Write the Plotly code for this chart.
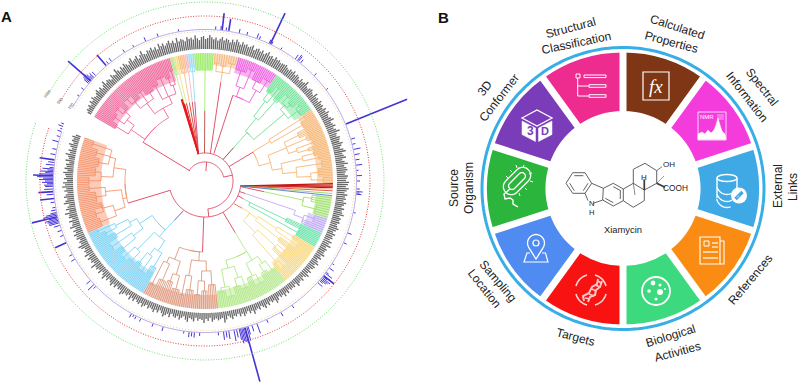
import math
import plotly.graph_objects as go

# ---------- Panel A data ----------
A_CX, A_CY, A_RAD = 205, 181, 181
LEAF_R = 128
RED = '#e0405c'
CLADE_NAMES = ['pink','lgreen0','yellow0','orange0','rose0','sky0','lime','sorange','magenta','green','orange',
               'sgreen','purple','teal','yellow','lgreen','brown','sky','salmon']
CLADE_TH0 = [150,106,104.3,102.5,99.3,97.8,95,86,75,56,34,-7,-17,-24,-31,-51,-84,-119,-156]
CLADE_TH1 = [106,104.3,102.5,99.3,97.8,95,86,75,56,34,-1,-17,-24,-31,-51,-84,-119,-156,-200]
CLADE_COLOR = ['#ef5f96','#b4e68c','#f2dc6e','#f6b878','#f4b0c0','#8bd8f5','#93ea5e','#f6b274','#ee55de','#62e08c','#f6b26e',
               '#98de62','#b9a2f2','#62e2a6','#f8d678','#aee682','#dd9478','#72cff3','#f68e64']
BAND_INNER = [104,114,114,114,114,114,112,116,112,108,112,112,108,105,105,110,114,105,104]
STEM_TH0 = [146,103.6,103.6,103.6,103.6,103.6,91,79,72,50,31,-9,-17,-24,-38,-60,-92,-126,-165]
STEM_R0 = [18,28,28,28,28,28,28,28,29,28,28,36,36,36,37,36,36,37,36]
STEM_TH1 = [148,105.2,103.4,100.9,98.5,96.4,90,81,72,49,31,-11,-18,-25.5,-35,-59.5,-92,-129,-164]
STEM_SPLIT = [73,80,80,80,80,80,70,100,90,44,56,60,42,42,46,60,71,50,80]
STEM_COLOR = [RED,'#c81e1e','#d82020','#e04030','#d84060','#d84060','#b84a3c',RED,RED,'#7a3a50',RED,RED,RED,RED,'#e0703c',RED,RED,'#5a5ab0',RED]
CLADE_TREE = [
 (73,(90,(104,4),(99,(110,6),(106,(113,5),4))),(84,(97,(106,(113,6),5),(110,4),(104,7)),(92,(107,5),(112,6),(101,(109,4),(115,3))))),
 (110,3),(110,2),(110,4),(110,2),(110,3),
 (111,11),
 (110,(118,3),(116,3),(120,4)),
 (90,(100,(116,7),(120,4)),(104,(112,6),(118,5))),
 (64,(81,(100,(110,4),(118,3)),(106,4)),(104,(110,(118,4),(114,5)),(116,(120,3),4))),
 (56,(76,(118,3),(112,5)),(68,(88,(104,5),(110,4),(97,(115,4),(108,3))),(78,(100,(112,4),(116,3)),(92,(118,5),(106,(114,6),(118,4)))))),
 (100,(108,4),(114,5)),
 (95,(105,(115,4),3)),
 (50,(90,4),(106,5)),
 (55,(64,(86,(104,4),(112,4)),(94,5)),(72,(96,(106,5),4),(108,(116,5),3))),
 (82,(92,(100,(112,5),(108,5)),(106,(116,6),4)),(90,(102,(114,5),(110,5)),(108,(118,5),(112,6)))),
 (71,(80,(90,(104,5),(100,(110,4),(114,4))),(96,(110,5),(116,3))),(84,(98,(112,5),(106,4)),(90,(108,5),(116,4)))),
 (63,(72,(84,(100,5),(92,(110,6),(104,4))),(96,(108,6),(112,5))),(78,(90,(106,5),(114,6)),(86,(104,5),(100,(112,4),(118,3))))),
 (80,(84,(95,(112,6),(106,(114,5),4)),(100,(110,7),(116,4))),(92,(104,(116,5),(110,6)),(98,(108,6),(112,5),(118,4)))),
]
THIN_COLOR = ['#c81414','#c81414','#d01818','#b01010','#f2a860','#e03030','#88cc55','#3a6ad0']
THIN_TH0 = [-8,-8,-8,-8,-8,-8,-8,-8]
THIN_TH1 = [-1.2,-1.8,-2.4,-3,-3.6,-4.4,-5.6,-6.6]
THIN_W = [1.2,1.2,1.0,1,0.8,0.8,0.8,0.8]
BACK_R = [19,28,36]
BACK_TH0 = [146,107,195]
BACK_TH1 = [12,-84,350]
STUB_TH = [85,12,-84]
STUB_R0 = [10,19,28]
STUB_R1 = [19,28,36]

GRAY_BASE = 132
GRAY_PINK = [4,6,5,7,5,8,6,9,7,6,8,10,7,9,6,8,11,7,9,8,6,10,8,7,12,9,7,10,8,11,9,7,10,12,8,9,11,7,10,13,9,8,11,10,12,9,11,8,13,10,12,9]
GRAY_STRIP = [11,13,10,12,9,14,10,12,11,9,13,11,12,10,14,11,9,12,13,10,11,14,12,10]
GRAY_SORANGE = [12,9,11,13,10,12,11,9,12,10,13,11,9]
GRAY_MAGENTA = [12,10,11,9,10,12,8,10,11,9,11,8,10,12,9,10,8,11,9,10,8,9]
GRAY_GREEN = [9,10,8,7,9,8,10,7,9,8,6,9,7,8,11,7,6,8,9,7,6,10,7,8,6,9]
GRAY_ORANGE = [7,8,6,9,7,10,8,7,9,11,7,8,10,7,9,12,8,7,10,9,8,11,9,7,10,12,8,9,11,7,9,12,8,10,11,9,8,11,10,9,12]
GRAY_THIN = [11,9,12,10,8,11,9]
GRAY_SGREEN = [10,8,11,9,7,10,8,9,11,7,9,8]
GRAY_PURPLE = [9,7,8,10,8,6,9,7]
GRAY_TEAL = [8,6,9,7,10,6,8,7]
GRAY_YELLOW = [7,9,6,8,5,7,9,6,8,7,5,8,6,9,7,5,8,6,7,9,5,7,6]
GRAY_LGREEN = [7,5,8,6,9,6,7,5,8,10,6,7,5,8,6,9,7,5,8,6,7,10,6,8,5,7,9,6,8,5,7,6,9,7,5,8,11,6,7]
GRAY_BROWN = [8,6,7,9,5,8,6,10,7,6,8,5,9,7,6,10,8,5,7,9,6,8,7,5,9,6,8,10,7,5,8,6,9,7,6,8,5,7,9,6,8]
GRAY_SKY = [7,5,8,6,9,5,7,6,8,10,6,7,5,8,6,9,7,5,8,6,10,7,5,9,6,8,7,11,6,8,7,9,6,10,7,8,6,9,11,7,8,6,9]
GRAY_SALMON = [8,10,7,9,6,11,8,7,10,6,9,8,12,7,10,8,6,11,9,7,10,8,6,9,7,11,8,10,6,9,7,8,10,6,9,7,8,5,9,6,7,10,6,8,5,7,9,5,7,6,8,5]
GRAY_GROUPS = [(150,106,GRAY_PINK),(106,86,GRAY_STRIP),(86,75,GRAY_SORANGE),(75,56,GRAY_MAGENTA),(56,34,GRAY_GREEN),
               (34,-1,GRAY_ORANGE),(-1,-7,GRAY_THIN),(-7,-17,GRAY_SGREEN),(-17,-24,GRAY_PURPLE),(-24,-31,GRAY_TEAL),
               (-31,-51,GRAY_YELLOW),(-51,-84,GRAY_LGREEN),(-84,-119,GRAY_BROWN),(-119,-156,GRAY_SKY),(-156,-200,GRAY_SALMON)]

SPIKE_BASE = 152
PEAK_THETA = [22,64.5,83.5,81,138.8,130.6,178,172,193.6,-74.7,-38.6,186.6,184,204]
PEAK_R = [218,186,169,164,182,166,172,167,178,208,165,166,167,164]
SMALL_THETA = [140,139,138,137.5,136,146,143,128,129.5,161,160,159,158,163,165,168,170,175,176,177,179,180,181,182,183,185,188,190,191,192,
  194,195,196,197,199,201,209,211,221,223,224,243,242,241,245,250,254,262,264,265,266,268,
  -85,-83,-82,-81,-79,-78,-77,-76,-75.5,-73.5,-72,-70,-66,-60,-55,-42,-41,-40,-39,-37,-35,-33,-24,-20,-12,-5,-4.5,-4,-3,
  0,2,4,6,8,10,12,14,16,37,52,51,70,69,100,108,113,118,122,86,77,74,60,44,
  138.5,139.5,137,173,174,175.5,176.5,177.5,178.5,179.5,180.5,181.5,192.5,193,194.5,195.5,-76.5,-75,-74,-40.5,-39.5,-38.5,-37.5,52.5,53.5,84,82,65,64]
SMALL_R = [158,160,159,156,157,154,155,156,155,156,154,157,155,155,158,156,157,156,158,160,162,160,158,160,161,159,156,155,157,158,
  161,163,162,158,156,155,155,156,157,160,155,155,154,156,155,155,156,154,157,156,157,155,
  155,160,158,160,163,160,163,165,166,160,158,162,155,156,155,158,156,160,157,155,157,154,155,156,154,157,155,158,155,
  155,157,154,158,156,157,159,155,156,154,158,156,157,155,154,155,156,154,155,155,156,155,154,155,
  161,160,158,158,160,163,165,166,168,166,163,161,163,166,165,162,167,168,166,159,162,164,160,159,157,156,155,156,155]
RING_GREEN, RING_RED, RING_PURPLE, RING_ORANGE = 179, 165, 151.5, 149.5
RING_START, RING_END = 151, -199
RING_LABELS = ['1000','500','100']
RING_LABEL_X = [47,59,70]
RING_LABEL_Y = [93,101,106]

# ---------- Panel B data ----------
B_CX, B_CY, B_RAD = 623, 188.5, 147
SECTOR_THETA = [72,36,0,-36,-72,-108,-144,180,144,108]
SECTOR_COLOR = ['#7e3614','#f43bdc','#3fa9e6','#fb8c13','#3dd97f','#f91212','#4f8bf0','#2bb53c','#7a3cb8','#ee2b8f']
SECTOR_INNER, SECTOR_OUTER, SECTOR_WIDTH = 77.5, 136, 36
GAP_THETA = [90,54,18,-18,-54,-90,-126,-162,162,126]
RING_B_R = 141
LABEL_TEXT = ['Structural','Classification','Calculated','Properties','Spectral','Information','External','Links','References',
              'Biological','Activities','Targets','Sampling','Location','Source','Organism','3D','Conformer']
LABEL_X = [570,576,677,671,762,747,778,793,750,670,677,575,498,484,454,469,485,499]
LABEL_Y = [28,43,27,42,87,97,186,187,280,336,352,337,281,288,188,188,88,98]
LABEL_ROT = [-15,-12,18,15,52,52,-90,-90,-50,-17,-15,15,50,52,-90,-90,-52,-52]

# ---------- helpers ----------
def leaves(n):
    return n if isinstance(n, int) else sum(leaves(c) for c in n[1:])
def arc_pts(r, a, b):
    n = max(2, int(abs(b - a) / 1.5) + 2)
    return [(a + (b - a) * i / (n - 1), r) for i in range(n)]

def build_tree(node, t0, t1, pr, segs):
    if isinstance(node, int):
        n = node
        ths = [t0 + (t1 - t0) * (i + .5) / n for i in range(n)]
        for t in ths:
            segs.append([(t, pr), (t, LEAF_R)])
        if n > 1:
            segs.append(arc_pts(pr, ths[0], ths[-1]))
        return (ths[0] + ths[-1]) / 2, False
    r = node[0]
    tot = leaves(node)
    cur = t0
    anchors = []
    for c in node[1:]:
        nxt = cur + (t1 - t0) * leaves(c) / tot
        a, is_node = build_tree(c, cur, nxt, r, segs)
        if is_node:
            segs.append([(a, r), (a, c[0])])
        anchors.append(a)
        cur = nxt
    if len(anchors) > 1:
        segs.append(arc_pts(r, anchors[0], anchors[-1]))
    return (anchors[0] + anchors[-1]) / 2, True

def flat(segs):
    th, rr = [], []
    for s in segs:
        for t, r in s:
            th.append(t); rr.append(r)
        th.append(None); rr.append(None)
    return th, rr

def xy(t, r):
    return r * math.cos(math.radians(t)), r * math.sin(math.radians(t))
def split_pt(t0, r0, t1, r1, rs):
    x0, y0 = xy(t0, r0); x1, y1 = xy(t1, r1)
    f = 0 if r1 == r0 else max(0, min(1, (rs - r0) / (r1 - r0)))
    x, y = x0 + (x1 - x0) * f, y0 + (y1 - y0) * f
    return math.degrees(math.atan2(y, x)), math.hypot(x, y)

fig = go.Figure()
def polar_line(segs, color, w, sub='polar', dash=None):
    th, rr = flat(segs)
    fig.add_trace(go.Scatterpolar(r=rr, theta=th, mode='lines', subplot=sub, cliponaxis=False, hoverinfo='skip',
                                  line=dict(color=color, width=w, dash=dash), showlegend=False))

# tall peaks leave the polar range, so they go on the cartesian axes
px, py = [], []
for t, r in zip(PEAK_THETA, PEAK_R):
    x0, y0 = xy(t, SPIKE_BASE); x1, y1 = xy(t, r)
    px += [A_CX + x0, A_CX + x1, None]
    py += [A_CY - y0, A_CY - y1, None]
fig.add_trace(go.Scatter(x=px, y=py, mode='lines', line=dict(color='#4433d4', width=1.6), hoverinfo='skip', showlegend=False, cliponaxis=False))

# bands behind the leaf tips
fig.add_trace(go.Barpolar(r=[LEAF_R - b for b in BAND_INNER], base=BAND_INNER,
                          theta=[(a + b) / 2 for a, b in zip(CLADE_TH0, CLADE_TH1)],
                          width=[abs(a - b) for a, b in zip(CLADE_TH0, CLADE_TH1)], subplot='polar',
                          marker=dict(color=CLADE_COLOR, line=dict(width=0)), opacity=0.45, hoverinfo='skip', showlegend=False))

# dendrogram
for i, name in enumerate(CLADE_NAMES):
    segs = []
    root_a, _ = build_tree(CLADE_TREE[i], CLADE_TH0[i], CLADE_TH1[i], 0, segs)
    rn = CLADE_TREE[i][0]
    segs.append(arc_pts(rn, STEM_TH1[i], root_a))
    polar_line(segs, CLADE_COLOR[i], 0.85)
    mid = split_pt(STEM_TH0[i], STEM_R0[i], STEM_TH1[i], rn, STEM_SPLIT[i])
    polar_line([[(STEM_TH0[i], STEM_R0[i]), mid]], STEM_COLOR[i], 0.9)
    if STEM_SPLIT[i] < rn:
        polar_line([[mid, (STEM_TH1[i], rn)]], CLADE_COLOR[i], 0.8)
for c, a, b, w in zip(THIN_COLOR, THIN_TH0, THIN_TH1, THIN_W):
    polar_line([[(a, 36), (b, LEAF_R)]], c, w)
polar_line([[(104, 28), (106.2, 85)], [(103.8, 28), (105.6, 85)], [(103.6, 28), (105, 80)]], '#e81818', 1.3)
polar_line([arc_pts(r, a, b) for r, a, b in zip(BACK_R, BACK_TH0, BACK_TH1)], RED, 0.9)
polar_line([[(t, a), (t, b)] for t, a, b in zip(STUB_TH, STUB_R0, STUB_R1)], RED, 0.9)

# gray bars
gray = []
for a, b, vals in GRAY_GROUPS:
    for k, h in enumerate(vals):
        t = a + (b - a) * (k + .5) / len(vals)
        gray.append([(t, GRAY_BASE), (t, GRAY_BASE + h)])
polar_line(gray, '#686868', 1.35)

# rings
ring = arc_pts(1, RING_START, RING_END)
polar_line([[(t, RING_GREEN) for t, _ in ring]], '#6fdc6f', 1, dash='1px,1.6px')
polar_line([[(t, RING_RED) for t, _ in ring]], '#e23c3c', 1, dash='1px,1.6px')
polar_line([[(t, RING_ORANGE) for t, _ in ring]], '#f2b860', 0.7, dash='1px,2px')
polar_line([[(t, RING_PURPLE) for t, _ in ring]], '#b6abec', 1)

# spikes
polar_line([[(t, SPIKE_BASE), (t, r)] for t, r in zip(SMALL_THETA, SMALL_R)], '#4a36d8', 1.0)

# Panel B sectors
fig.add_trace(go.Barpolar(r=[SECTOR_OUTER - SECTOR_INNER] * len(SECTOR_THETA), base=[SECTOR_INNER] * len(SECTOR_THETA),
                          theta=SECTOR_THETA, width=[SECTOR_WIDTH] * len(SECTOR_THETA), subplot='polar2',
                          marker=dict(color=SECTOR_COLOR, line=dict(width=0)), hoverinfo='skip', showlegend=False))
polar_line([[(t, SECTOR_INNER - 4), (t, SECTOR_OUTER + 2)] for t in GAP_THETA], 'white', 7, sub='polar2')
polar_line([arc_pts(RING_B_R, 0, 360)], '#38aee6', 3, sub='polar2')

# ---------- shapes for icons and molecule ----------
shapes = []
def P(pts, w=1, c='white', fill=None, close=False):
    d = 'M' + ' L'.join(f'{x:.1f},{y:.1f}' for x, y in pts) + (' Z' if close else '')
    shapes.append(dict(type='path', path=d, xref='x', yref='y', layer='above', line=dict(color=c, width=w),
                       fillcolor=fill if fill else 'rgba(0,0,0,0)'))
def E(cx, cy, rx, ry=None, w=1, c='white', fill=None):
    ry = rx if ry is None else ry
    shapes.append(dict(type='circle', x0=cx - rx, x1=cx + rx, y0=cy - ry, y1=cy + ry, xref='x', yref='y', layer='above',
                       line=dict(color=c, width=w), fillcolor=fill if fill else 'rgba(0,0,0,0)'))
def R(x0, y0, x1, y1, w=1, c='white', fill=None):
    P([(x0, y0), (x1, y0), (x1, y1), (x0, y1)], w, c, fill, True)
def arcxy(cx, cy, r, a, b, n=24):
    return [(cx + r * math.cos(math.radians(a + (b - a) * i / n)), cy - r * math.sin(math.radians(a + (b - a) * i / n))) for i in range(n + 1)]

# structural classification
R(576, 74, 580, 78); R(584, 75, 606, 77.6); R(589, 84.7, 606, 87.3); R(589, 94.7, 606, 97.3)
P([(577.7, 78), (577.7, 96), (589, 96)]); P([(577.7, 86), (589, 86)])
# fx
R(643, 72, 669, 100, 1.2)
# NMR
R(698, 112, 726, 140, 0.8)
P([(698, 139.5), (698, 134), (702, 132), (705, 134), (708, 130), (711, 133), (714, 130), (716, 125), (718, 118), (720, 125), (722, 131), (725, 134), (726, 139.5)], 0.5, 'white', 'white', True)
for yy in (115, 117, 119):
    P([(717, yy), (724, yy)], 0.6)
# database
E(727, 178, 10, 3.5, 1.4); P([(717, 178), (717, 198)], 1.4); P([(737, 178), (737, 190)], 1.4)
P(arcxy(727, 184, 10.5, 200, 340, 10), 1.3); P(arcxy(727, 191, 10.5, 200, 300, 10), 1.3); P(arcxy(727, 197, 10.5, 190, 290, 10), 1.3)
E(739, 195.5, 8, w=0, fill='white'); P([(735.5, 199), (742.5, 192)], 3.4, '#3fa9e6'); P([(737, 197.5), (739, 195.5)], 0.8, 'white')
# references
R(700, 237, 720, 264, 1.1); P([(720, 241), (724, 241), (724, 264), (720, 264)], 1.1)
R(704, 241, 709, 246, 1); P([(712, 243), (718, 243)], 1.2); P([(712, 247), (718, 247)], 1.2)
P([(703, 252), (718, 252)], 1.2); P([(703, 258), (718, 258)], 1.2)
# dish
E(656, 291, 14, w=1.8)
for cx, cy, r in [(653, 283, 2.4), (660, 285, 1.5), (649, 291, 1.8), (660, 292, 3), (656, 299, 1.5), (665, 289, 1)]:
    E(cx, cy, r, w=0, fill='white')
# targets
for a, b in [(15, 75), (105, 165), (195, 255), (285, 345)]:
    P(arcxy(591, 290, 15.5, a, b, 12), 1.6, '#ffd8d8')
for s in ([(584, 301), (583, 296), (589, 293), (592, 287), (597, 284), (598, 279)], [(588, 302), (590, 297), (595, 295), (596, 290), (600, 287), (602, 281)]):
    P(s, 2, '#ffc4c4')
for s in ([(585, 298), (590, 299)], [(589, 294), (594, 296)], [(592, 289), (596, 291)], [(595, 285), (600, 287)], [(598, 281), (601, 283)]):
    P(s, 1.6, '#ffc4c4')
# pin
P(arcxy(536, 243, 8.5, -35, 215, 24) + [(536, 259)], 1.3, close=True)
E(536, 243, 3, w=1.2)
P([(530, 253), (527, 253), (524, 262), (548, 262), (545.5, 253), (542, 253)], 1.2)
# bacterium
def capsule(cx, cy, hl, r):
    d = 45
    ux, uy = math.cos(math.radians(d)), -math.sin(math.radians(d))
    return arcxy(cx + hl * ux, cy + hl * uy, r, d - 90, d + 90, 10) + arcxy(cx - hl * ux, cy - hl * uy, r, d + 90, d + 270, 10)
P(capsule(517, 181, 8, 8), 1.3, close=True)
P(capsule(517, 181, 7, 3.5), 1.3, close=True)
for (x0, y0, x1, y1) in [(508, 178, 506, 176), (512, 172, 510, 170), (517, 168, 516, 165), (523, 168, 524, 165), (529, 174, 532, 173), (530, 181, 533, 182), (525, 188, 527, 190), (519, 193, 520, 196)]:
    P([(x0, y0), (x1, y1)], 1)
P([(510, 189), (504, 194), (505, 199), (510, 198), (513, 200), (513, 204), (518, 207)], 1.4)
# cube
P([(522, 118), (537, 110), (552, 118), (537, 126)], 1.3, close=True)
P([(522, 121), (535.5, 128), (535.5, 141.5), (522, 134.5)], 0.5, 'white', 'white', True)
P([(552, 121), (538.5, 128), (538.5, 141.5), (552, 134.5)], 0.5, 'white', 'white', True)

# molecule, coordinates
def M(*pts, w=0.8, c='#3a3a3a', fill=None, close=False):
    P([(550 + x / 3, 130 + y / 3) for x, y in pts], w, c, fill, close)
RING_A = [(68, 128), (105, 128), (125, 160), (105, 190), (68, 190), (48, 160)]
M(*RING_A, close=True)
for a, b in [((73, 137), (100, 137)), ((114, 160), (100, 182)), ((73, 182), (59, 160))]:
    M(a, b)
M((125, 160), (160, 175), (158, 210), (130, 220)); M((105, 190), (114, 212))
M((160, 175), (190, 160), (220, 177), (220, 212), (190, 228), (158, 210))
M((190, 170), (212, 182)); M((211, 182), (211, 207)); M((190, 218), (166, 205))
M((220, 177), (250, 160), (283, 180), (283, 212), (250, 232), (220, 212))
M((250, 160), (250, 118), (285, 100), (320, 122), (320, 160), (283, 180))
M((320, 122), (336, 110), w=0.7); M((320, 160), (345, 172), w=1.7); M((320, 160), (342, 138), w=0.5)
M((283, 180), (283, 148), w=1.7); M((250, 160), (255, 195), w=0.6)

fig.update_layout(
    width=800, height=382, margin=dict(l=0, r=0, t=0, b=0), showlegend=False,
    paper_bgcolor='white', plot_bgcolor='rgba(0,0,0,0)', font=dict(family='Liberation Sans'),
    xaxis=dict(range=[0, 800], visible=False, fixedrange=True, domain=[0, 1]),
    yaxis=dict(range=[382, 0], visible=False, fixedrange=True, domain=[0, 1]),
    polar=dict(domain=dict(x=[(A_CX - A_RAD) / 800, (A_CX + A_RAD) / 800], y=[1 - (A_CY + A_RAD) / 382, 1 - (A_CY - A_RAD) / 382]),
               bgcolor='rgba(0,0,0,0)', bargap=0,
               radialaxis=dict(visible=False, range=[0, A_RAD]),
               angularaxis=dict(visible=False, rotation=0, direction='counterclockwise')),
    polar2=dict(domain=dict(x=[(B_CX - B_RAD) / 800, (B_CX + B_RAD) / 800], y=[1 - (B_CY + B_RAD) / 382, 1 - (B_CY - B_RAD) / 382]),
                bgcolor='rgba(0,0,0,0)', bargap=0,
                radialaxis=dict(visible=False, range=[0, B_RAD]),
                angularaxis=dict(visible=False, rotation=0, direction='counterclockwise')),
    shapes=shapes,
)
def T(x, y, s, size=12, rot=0, color='#222222', family='Liberation Sans'):
    fig.add_annotation(x=x, y=y, xref='x', yref='y', text=s, showarrow=False, textangle=rot, xanchor='center', yanchor='middle',
                       font=dict(size=size, color=color, family=family))
T(6, 16, '<b>A</b>', 15, color='#111111'); T(443, 17, '<b>B</b>', 15, color='#111111')
for x, y, s in zip(RING_LABEL_X, RING_LABEL_Y, RING_LABELS):
    T(x, y, s, 4, -52, '#555555')
for s, x, y, r in zip(LABEL_TEXT, LABEL_X, LABEL_Y, LABEL_ROT):
    T(x, y, s, 12, r)
T(656, 86, '<i>fx</i>', 19, 0, 'white', 'Liberation Serif')
T(707, 116.5, 'NMR', 6, 0, 'white')
T(530, 131, '<b>3</b>', 12, 0, '#7a3cb8'); T(545, 131, '<b>D</b>', 11, 0, '#7a3cb8')
T(623, 229, 'Xiamycin', 9.4)
T(669, 164, 'OH', 8); T(675, 188, 'COOH', 8.3); T(644, 177, 'H', 8); T(591, 203.5, 'N', 7.6); T(591, 212.5, 'H', 7.6)
fig.write_html('out.html', config={'displayModeBar': False}, post_script="document.body.style.margin='0';document.documentElement.style.overflow='hidden';")
